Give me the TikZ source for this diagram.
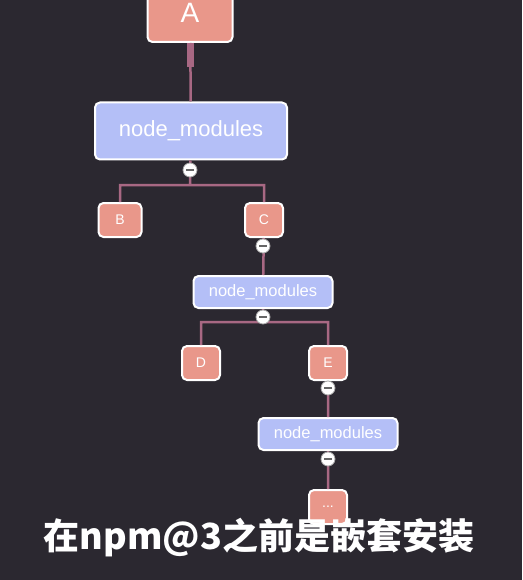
\documentclass[tikz,border=0pt]{standalone}
\usepackage{fontspec}
\setmainfont{Liberation Sans}
\newfontfamily\cjk{Noto Sans CJK SC}
\usetikzlibrary{positioning}
\definecolor{bgdark}{HTML}{2B2830}
\definecolor{pkgfill}{HTML}{E9978A}
\definecolor{dirfill}{HTML}{B4BFF7}
\definecolor{linkline}{HTML}{A86883}
\begin{document}
\begin{tikzpicture}[x=1pt,y=-1pt,
    pkg node/.style={draw=white,line width=2pt,fill=pkgfill,rounded corners=5pt,
      text=white,minimum width=38pt,minimum height=34pt,inner sep=2pt,
      font=\fontsize{14}{16}\selectfont},
    dir node/.style={draw=white,line width=2pt,fill=dirfill,rounded corners=5pt,
      text=white,minimum width=139pt,minimum height=32pt,inner sep=2pt,
      font=\fontsize{16.5}{20}\selectfont},
    fold/.style={circle,draw=gray!70,fill=white,line width=0.8pt,minimum size=14pt,inner sep=0pt,
      path picture={\draw[gray!80!black,line width=1.3pt]
        ([xshift=-4pt]path picture bounding box.center) -- ([xshift=4pt]path picture bounding box.center);}},
    link/.style={draw=linkline,line width=2.5pt}]

        % Background
        \fill[bgdark] (0,0) rectangle (522,580);
        \clip (0,0) rectangle (522,580);

        % Define vertices
        \node[pkg node,minimum width=85pt,minimum height=58pt,font=\fontsize{28}{32}\selectfont] (A) at (190,13) {A};
        \node[dir node,minimum width=192pt,minimum height=57pt,font=\fontsize{22}{26}\selectfont] (nm1) at (191,131) {node\_modules};
        \node[pkg node,minimum width=43pt] (B) at (120,220) {B};
        \node[pkg node] (C) at (264,220) {C};
        \node[dir node] (nm2) at (263,292) {node\_modules};
        \node[pkg node] (D) at (201,363) {D};
        \node[pkg node] (E) at (328,363) {E};
        \node[dir node] (nm3) at (328,434) {node\_modules};
        \node[pkg node] (more) at (328,507) {...};
        \coordinate (stub) at (190,67);
        \coordinate (j1) at (190,185);
        \coordinate (j3) at (263,322);

        % Draw edges
        \draw[linkline,line width=7pt] (A.south) -- (stub);
        \path[link]
            (A) -- (nm1)
            (nm1) -- (j1) -| (B)
            (j1) -| (C)
            (C) -- (nm2)
            (nm2) -- (j3) -| (D)
            (j3) -| (E)
            (E) -- (nm3)
            (nm3) -- (more);

        % Fold markers
        \node[fold] (f1) at (190,170) {};
        \node[fold] (f2) at (263,246) {};
        \node[fold] (f3) at (263,317) {};
        \node[fold] (f4) at (328,388) {};
        \node[fold] (f5) at (328,459) {};

        % Caption
        \node[text=white,font=\cjk\bfseries\fontsize{36}{40}\selectfont] (caption) at (259,538) {在npm@3之前是嵌套安装};

\end{tikzpicture}
\end{document}
